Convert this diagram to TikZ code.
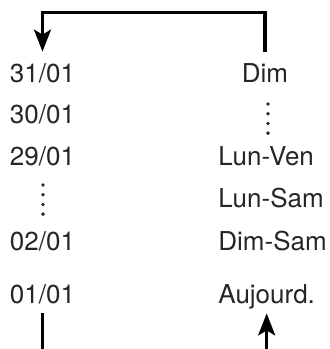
\documentclass[tikz,border=0pt]{standalone}
\usepackage{fontspec}
\setmainfont{TeX Gyre Heros}
\usetikzlibrary{arrows.meta}
\tikzset{
  dat/.style={inner xsep=0pt, inner ysep=5pt, text height=10pt, text depth=0pt,
    font=\fontsize{13}{15}\selectfont, text=black!85},
  jour/.style={dat, anchor=base west},
  tra/.style={-{Stealth[length=11pt, width=8.5pt, inset=2.5pt]}, line width=1.6pt},
  lin/.style={line width=1.6pt},
  pt/.style={fill=black!85}
}

\begin{document}
\begin{tikzpicture}[x=0.5pt, y=-0.5pt]
		\useasboundingbox (0,0) rectangle (329,349);
		\node[dat, anchor=base] (d31) at (42.5,82) {31/01};
		\node[dat, anchor=base] (d30) at (42.5,123) {30/01};
		\node[dat, anchor=base] (d29) at (42.5,165) {29/01};
		\node[dat, anchor=base] (d02) at (42.5,250) {02/01};
		\node[dat, anchor=base] (d01) at (42.5,303) {01/01};
		\node[dat, anchor=base] (dim) at (265,82) {Dim};
		\node[jour] (lv) at (218,165) {Lun-Ven};
		\node[jour] (ls) at (218,207) {Lun-Sam};
		\node[jour] (ds) at (218,250) {Dim-Sam};
		\node[jour] (auj) at (218,303) {Aujourd.};
		\coordinate (haut) at (150,12.5);
		\coordinate (bas) at (150,349);
		\draw[tra] (dim.north) |- (haut) -| (d31.north);
		\draw[lin] (d01.south) -- (d01.south |- bas);
		\draw[tra] (auj.south |- bas) -- (auj.south);
		\foreach \k in {0,...,3} {
			\fill[pt] (43,185+9.7*\k) circle (1.9);
			\fill[pt] (268,104+9.7*\k) circle (1.9);
		}
	\end{tikzpicture}
\end{document}
